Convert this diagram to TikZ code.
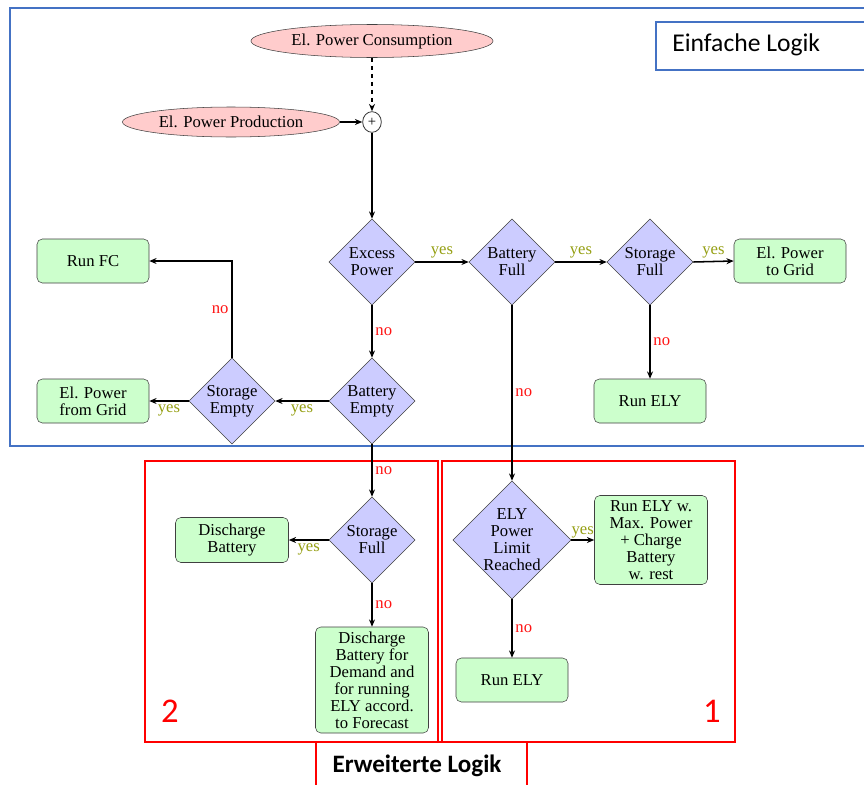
\documentclass[tikz,border=0pt]{standalone}
\usepackage{fontspec}
\setmainfont{Liberation Serif}
\newfontfamily\calib{Carlito}
\usetikzlibrary{shapes.geometric,arrows.meta}
\definecolor{lav}{RGB}{204,204,255}
\definecolor{mint}{RGB}{204,255,204}
\definecolor{pinkfill}{RGB}{255,204,204}
\definecolor{yescol}{RGB}{150,160,20}
\definecolor{nocol}{RGB}{255,20,20}
\definecolor{offblue}{RGB}{68,114,196}
\tikzset{
  fl/.style={font=\fontsize{12.5}{12.75}\selectfont},
  dia/.style={diamond, draw=black!75, fill=lav, inner sep=0pt, minimum width=64.5pt, minimum height=64.5pt},
  dtext/.style={fl, align=center, inner sep=0pt},
  box/.style={rectangle, rounded corners=4pt, draw=black!75, fill=mint, minimum width=84pt, minimum height=33pt, align=center, inner sep=1pt, fl},
  src/.style={ellipse, draw=black!75, fill=pinkfill, inner sep=0pt, font=\fontsize{12.5}{14}\selectfont},
  conn/.style={draw=black, line width=1.15pt, -{Stealth[length=5.5pt,width=4.5pt]}},
  yeslbl/.style={text=yescol, fl, inner sep=2pt},
  nolbl/.style={text=nocol, fl, inner sep=2pt},
  redbox/.style={draw=red, line width=1.5pt},
  bluebox/.style={draw=offblue, line width=1.5pt}
}
\begin{document}
\begin{tikzpicture}[x=0.75pt,y=-0.75pt]
\useasboundingbox (0,0) rectangle (864,785);
\fill[white] (0,0) rectangle (864,785);
\clip (0,0) rectangle (864,785);

% frames
\draw[bluebox] (10,8) rectangle (880,446);
\draw[bluebox] (656,22) rectangle (880,70);
\node[font=\calib\fontsize{19.2}{21}\selectfont, anchor=west, inner sep=0pt] (einf) at (672,45) {Einfache Logik};
\draw[redbox] (145,461) rectangle (438,742);
\draw[redbox] (442,461) rectangle (735,742);
\draw[redbox] (316,800) -- (316,742) -- (527,742) -- (527,800);
\node[font=\calib\bfseries\fontsize{18.8}{20}\selectfont, inner sep=0pt] (erw) at (417,766) {Erweiterte Logik};
\node[font=\calib\fontsize{26}{28}\selectfont, text=red, inner sep=0pt] (two) at (170,711) {2};
\node[font=\calib\fontsize{26}{28}\selectfont, text=red, inner sep=0pt] (one) at (712,711) {1};

% sources
\node[src, minimum width=181.5pt, minimum height=24.75pt] (cons) at (372,41) {El. Power Consumption};
\node[src, minimum width=162.75pt, minimum height=22.5pt] (prod) at (231,122) {El. Power Production};
\node[ellipse, draw=black!80, line width=0.6pt, fill=white, minimum width=14pt, minimum height=15.5pt, inner sep=0pt, font=\fontsize{11}{12}\selectfont] (plus) at (372,122) {+};

% decisions
\node[dia] (ep) at (372,262) {};
\node[dtext] (ept) at (ep) {Excess\\Power};
\node[dia] (bf) at (512,262) {};
\node[dtext] (bft) at (bf) {Battery\\Full};
\node[dia] (sf) at (650,262) {};
\node[dtext] (sft) at (sf) {Storage\\Full};
\node[dia] (be) at (372,401) {};
\node[dtext] (bet) at (be) {Battery\\Empty};
\node[dia] (se) at (232,401) {};
\node[dtext] (set) at (se) {Storage\\Empty};
\node[dia] (sf2) at (372,540) {};
\node[dtext] (sf2t) at (sf2) {Storage\\Full};
\node[dia, minimum width=88.5pt, minimum height=88.5pt] (ely) at (512,540) {};
\node[dtext] (elyt) at (ely) {ELY\\Power\\Limit\\Reached};

% actions
\node[box] (grid) at (790,261) {El. Power\\to Grid};
\node[box] (fc) at (93,261) {Run FC};
\node[box] (fgrid) at (93,401) {El. Power\\from Grid};
\node[box] (ely1) at (650,401) {Run ELY};
\node[box, minimum width=84.75pt, minimum height=33.75pt] (db) at (232,540) {Discharge\\Battery};
\node[box, minimum width=84.75pt, minimum height=79.5pt] (dbd) at (372,680) {Discharge\\Battery for\\Demand and\\for running\\ELY accord.\\to Forecast};
\node[box, minimum width=84.75pt, minimum height=66.75pt] (elymax) at (651,540) {Run ELY w.\\Max. Power\\+ Charge\\Battery\\w. rest};
\node[box] (ely2) at (512,680) {Run ELY};

% connectors
\draw[conn, dashed] (cons.south) -- (plus.north);
\draw[conn] (prod.east) -- (plus.west);
\draw[conn] (plus.south) -- (ep.north);
\draw[conn] (ep.east) -- node[yeslbl, above] (y1) {yes} (bf.west);
\draw[conn] (bf.east) -- node[yeslbl, above] (y2) {yes} (sf.west);
\draw[conn] (sf.east) -- node[yeslbl, above] (y3) {yes} (grid.west);
\draw[conn] (sf.south) -- node[nolbl, right] (n1) {no} (ely1.north);
\draw[conn] (ep.south) -- node[nolbl, right] (n2) {no} (be.north);
\draw[conn] (be.west) -- node[yeslbl, below] (y4) {yes} (se.east);
\draw[conn] (se.west) -- node[yeslbl, below] (y5) {yes} (fgrid.east);
\draw[conn] (se.north) -- node[nolbl, left] (n3) {no} (se.north |- fc.east) -- (fc.east);
\draw[conn] (bf.south) -- node[nolbl, right] (n4) {no} (ely.north);
\draw[conn] (be.south) -- node[nolbl, right] (n5) {no} (sf2.north);
\draw[conn] (sf2.west) -- node[yeslbl, below] (y6) {yes} (db.east);
\draw[conn] (sf2.south) -- node[nolbl, right] (n6) {no} (dbd.north);
\draw[conn] (ely.east) -- node[yeslbl, above, inner sep=1pt] (y7) {yes} (elymax.west);
\draw[conn] (ely.south) -- node[nolbl, right] (n7) {no} (ely2.north);
\end{tikzpicture}
\end{document}
